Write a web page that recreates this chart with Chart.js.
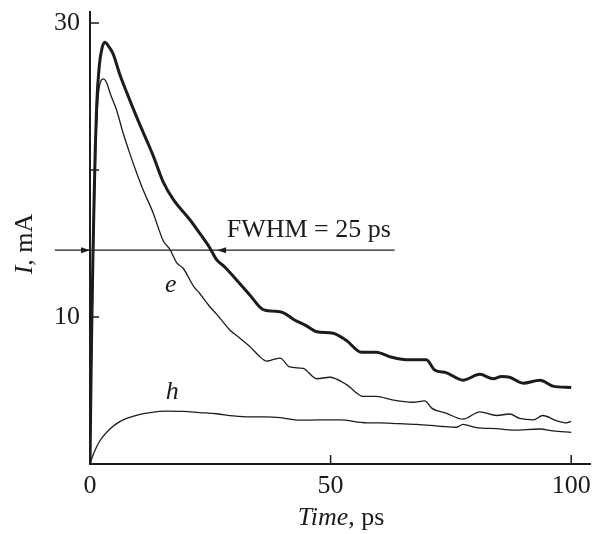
<!DOCTYPE html>
<html>
<head>
<meta charset="utf-8">
<script src="https://cdn.jsdelivr.net/npm/chart.js@4.4.0/dist/chart.umd.min.js"></script>
<style>
  body { margin: 0; background: #fff; }
  #wrap { width: 602px; height: 534px; }
</style>
</head>
<body>
<div id="wrap"><canvas id="chart" width="602" height="534"></canvas></div>
<script>
// Данные (время в пс, ток в мА)

// суммарный ток (жирная линия)
const totalT = [0, 0.3, 0.6, 0.85, 1.1, 1.4, 1.9, 2.5, 3.1, 3.9, 4.8, 6.2, 7.6, 9.7, 11.8, 13.1, 15.2, 17.3,
    20.8, 23.0, 24.9, 26.3, 28.0, 30.5, 33.2, 36.0, 38.0, 40.1, 42.5, 45.0, 47.1, 50.5, 53.3, 56.4, 59.5,
    62.3, 65.8, 69.9, 71.6, 74.1, 77.5, 81.0, 83.8, 85.5, 87.2, 90.0, 93.5, 96.2, 100];
const totalI = [0, 8, 14, 18, 21.5, 24.5, 27.0, 28.3, 28.7, 28.4, 27.9, 26.5, 25.3, 23.6, 22.0, 21.0, 19.2, 18.0,
    16.6, 15.6, 14.7, 13.9, 13.4, 12.5, 11.5, 10.5, 10.4, 10.3, 9.8, 9.4, 9.0, 8.9, 8.4, 7.6, 7.6,
    7.3, 7.1, 7.1, 6.4, 6.2, 5.7, 6.1, 5.8, 5.95, 5.9, 5.5, 5.7, 5.3, 5.2];

// электронная компонента e
const eT = [0, 0.4, 0.8, 1.2, 1.7, 2.2, 2.8, 3.5, 4.2, 5.5, 6.9, 8.3, 9.7, 11.1, 13.1, 15.2, 16.6, 18.0, 19.4,
    21.5, 22.8, 24.9, 26.3, 27.3, 29.1, 31.0, 33.2, 35.0, 36.7, 38.0, 39.5, 41.5, 44.3, 47.1, 49.8, 53.3,
    56.8, 59.5, 63.0, 67.1, 69.6, 71.0, 74.1, 77.5, 81.0, 84.5, 87.2, 89.3, 92.1, 94.1, 96.9, 99.0, 100];
const eI = [0, 9, 16, 21.5, 25.0, 26.0, 26.2, 25.9, 25.2, 24.1, 22.5, 21.1, 19.8, 18.6, 17.1, 15.2, 14.6, 13.7, 13.3,
    12.1, 11.6, 10.7, 10.2, 9.8, 9.1, 8.6, 8.0, 7.4, 7.0, 7.1, 7.2, 6.6, 6.5, 5.8, 5.9, 5.4,
    4.6, 4.6, 4.35, 4.2, 4.3, 3.8, 3.45, 3.05, 3.55, 3.3, 3.4, 3.1, 3.0, 3.3, 2.95, 2.8, 2.9];

// дырочная компонента h
const hT = [0, 1.0, 2.1, 4.2, 6.0, 7.6, 10.0, 12.5, 15.9, 19.4, 22.8, 26.3, 29.8, 33.2, 36.5, 39.5, 43.6, 47.5,
    51.9, 57.5, 60.2, 64.0, 67.9, 73.3, 76.2, 77.5, 80.3, 84.5, 87.9, 93.5, 96.2, 100];
const hI = [0.05, 0.9, 1.6, 2.4, 2.85, 3.1, 3.35, 3.5, 3.6, 3.58, 3.5, 3.42, 3.27, 3.2, 3.2, 3.15, 2.98, 3.0,
    3.0, 2.8, 2.8, 2.75, 2.7, 2.55, 2.5, 2.7, 2.47, 2.4, 2.3, 2.38, 2.25, 2.15];

// Оси
const xTicks = [0, 50, 100];
const xTickLabels = ['0', '50', '100'];
const yTicks = [10, 20, 30];
const yTickLabels = ['10', '', '30'];

const ink = '#1c1c1c';
const serif = "'Liberation Serif', 'DejaVu Serif', serif";

function toPoints(xs, ys) {
    return xs.map((x, i) => ({ x: x, y: ys[i] }));
}

// Насечки внутрь, линия FWHM, подписи e/h и названия осей
const decorPlugin = {
    id: 'decor',
    afterDraw(chart) {
        const ctx = chart.ctx;
        const xs = chart.scales.x;
        const ys = chart.scales.y;
        const area = chart.chartArea;
        ctx.save();
        ctx.strokeStyle = ink;
        ctx.fillStyle = ink;

        // насечки
        ctx.lineWidth = 1.5;
        yTicks.forEach(v => {
            const py = ys.getPixelForValue(v);
            ctx.beginPath();
            ctx.moveTo(area.left, py);
            ctx.lineTo(area.left + 9, py);
            ctx.stroke();
        });
        xTicks.forEach(v => {
            if (v === 0) return;
            const px = xs.getPixelForValue(v);
            ctx.beginPath();
            ctx.moveTo(px, area.bottom);
            ctx.lineTo(px, area.bottom - 9);
            ctx.stroke();
        });

        // FWHM
        const half = 14.55;
        const fy = ys.getPixelForValue(half);
        const x1 = xs.getPixelForValue(-7.3);
        const x2 = xs.getPixelForValue(63.3);
        const a1 = xs.getPixelForValue(0);
        const a2 = xs.getPixelForValue(26.4);
        ctx.lineWidth = 1.4;
        ctx.beginPath();
        ctx.moveTo(x1, fy);
        ctx.lineTo(x2, fy);
        ctx.stroke();
        ctx.beginPath();
        ctx.moveTo(a1, fy);
        ctx.lineTo(a1 - 9, fy - 3);
        ctx.lineTo(a1 - 9, fy + 3);
        ctx.closePath();
        ctx.fill();
        ctx.beginPath();
        ctx.moveTo(a2, fy);
        ctx.lineTo(a2 + 9, fy - 3);
        ctx.lineTo(a2 + 9, fy + 3);
        ctx.closePath();
        ctx.fill();

        ctx.font = '26px ' + serif;
        ctx.textBaseline = 'alphabetic';
        ctx.textAlign = 'left';
        ctx.fillText('FWHM = 25 ps', xs.getPixelForValue(28.4), ys.getPixelForValue(15.45));

        // подписи кривых
        ctx.font = 'italic 26px ' + serif;
        ctx.textAlign = 'center';
        ctx.fillText('e', xs.getPixelForValue(16.8), ys.getPixelForValue(11.7));
        ctx.fillText('h', xs.getPixelForValue(17.1), ys.getPixelForValue(4.45));

        // название оси X: "Time, ps"
        const it = 'italic 26px ' + serif;
        const rm = '26px ' + serif;
        ctx.textAlign = 'left';
        ctx.font = it;
        const w1 = ctx.measureText('Time').width;
        ctx.font = rm;
        const w2 = ctx.measureText(', ps').width;
        let sx = 341 - (w1 + w2) / 2;
        ctx.font = it;
        ctx.fillText('Time', sx, 525);
        ctx.font = rm;
        ctx.fillText(', ps', sx + w1, 525);

        // название оси Y: "I, mA"
        ctx.translate(32, 244);
        ctx.rotate(-Math.PI / 2);
        ctx.font = it;
        const v1 = ctx.measureText('I').width;
        ctx.font = rm;
        const v2 = ctx.measureText(', mA').width;
        sx = -(v1 + v2) / 2;
        ctx.font = it;
        ctx.fillText('I', sx, 0);
        ctx.font = rm;
        ctx.fillText(', mA', sx + v1, 0);

        ctx.restore();
    }
};

const ctx = document.getElementById('chart').getContext('2d');

new Chart(ctx, {
    type: 'line',
    data: {
        datasets: [
            { label: 'total', data: toPoints(totalT, totalI), borderColor: ink, borderWidth: 3 },
            { label: 'e', data: toPoints(eT, eI), borderColor: ink, borderWidth: 1.3 },
            { label: 'h', data: toPoints(hT, hI), borderColor: ink, borderWidth: 1.3 }
        ]
    },
    options: {
        responsive: false,
        animation: false,
        events: [],
        layout: { padding: { top: 12, right: 12, left: 0, bottom: 0 } },
        elements: {
            point: { radius: 0 },
            line: { cubicInterpolationMode: 'monotone', fill: false, borderJoinStyle: 'round' }
        },
        plugins: {
            legend: { display: false },
            tooltip: { enabled: false }
        },
        scales: {
            x: {
                type: 'linear',
                min: 0,
                max: 103.9,
                grid: { display: true, drawOnChartArea: false, drawTicks: false },
                border: { display: true, color: ink, width: 2 },
                afterBuildTicks: s => { s.ticks = xTicks.map(v => ({ value: v })); },
                afterFit: s => { s.height = 70; s.paddingLeft = 0; s.paddingRight = 0; },
                ticks: {
                    padding: 7,
                    color: ink,
                    font: { family: serif, size: 26 },
                    callback: v => xTickLabels[xTicks.indexOf(v)]
                }
            },
            y: {
                type: 'linear',
                min: 0,
                max: 30.75,
                grid: { display: true, drawOnChartArea: false, drawTicks: false },
                border: { display: true, color: ink, width: 2 },
                afterBuildTicks: s => { s.ticks = yTicks.map(v => ({ value: v })); },
                afterFit: s => { s.width = 90; s.paddingTop = 0; s.paddingBottom = 0; },
                ticks: {
                    padding: 10,
                    color: ink,
                    font: { family: serif, size: 26 },
                    callback: v => yTickLabels[yTicks.indexOf(v)]
                }
            }
        }
    },
    plugins: [decorPlugin]
});
</script>
</body>
</html>
